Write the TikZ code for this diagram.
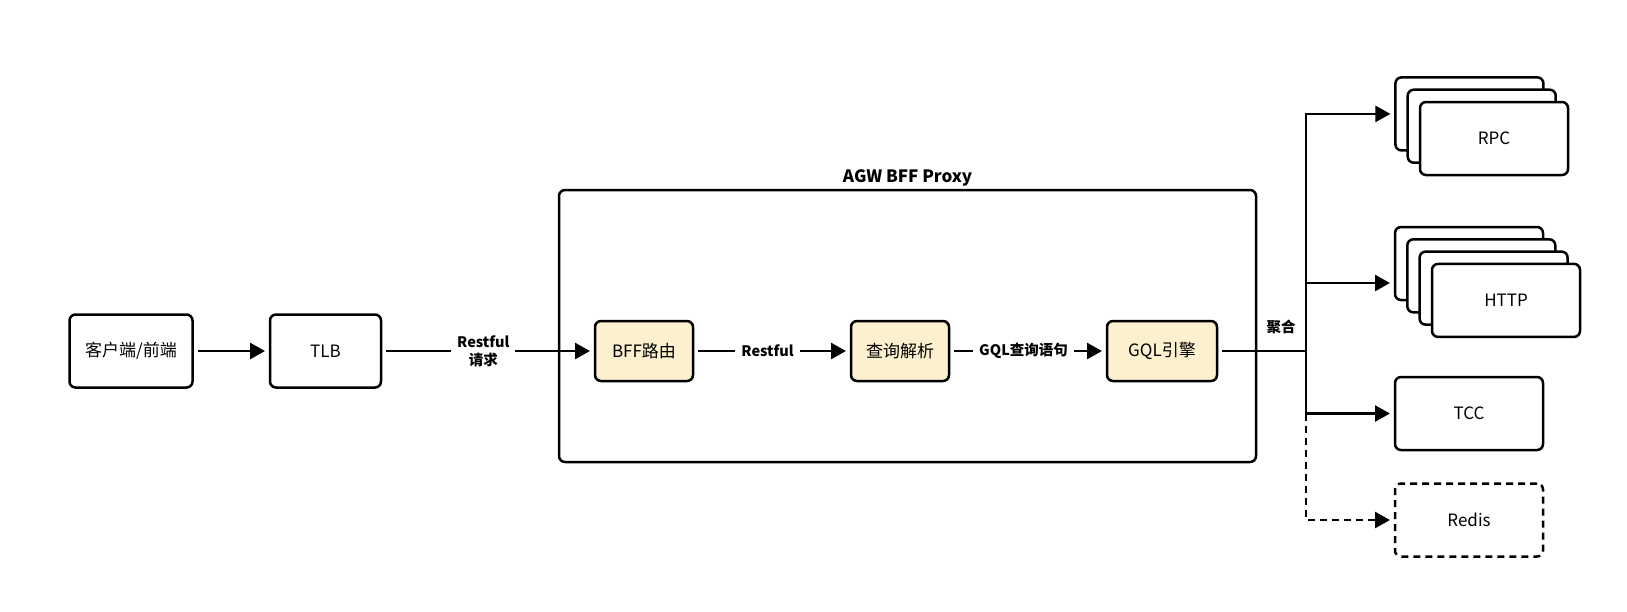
\documentclass[tikz,border=0pt]{standalone}
\usepackage{fontspec}
\setmainfont{Noto Sans CJK SC}
\usetikzlibrary{arrows.meta}

\definecolor{paleyellow}{HTML}{FDF0CF}

\begin{document}
\begin{tikzpicture}[x=1pt,y=-1pt,
  box/.style={shape=rectangle,draw=black,line width=2.5pt,rounded corners=6pt,
    fill=white,outer sep=5pt,font=\fontsize{17}{20}\selectfont},
  wide/.style={box,minimum width=148pt,minimum height=73pt},
  yellowbox/.style={box,fill=paleyellow,minimum height=60pt},
  lbl/.style={fill=white,inner sep=6pt,align=center,font=\bfseries\fontsize{14.5}{18}\selectfont},
  flow/.style={line width=2.5pt,-{Triangle[length=15pt,width=16pt]}},
  link/.style={line width=2.5pt},
  dashline/.style={dash pattern=on 7pt off 5pt}]
\useasboundingbox (0,0) rectangle (1627,611);
\node[shape=rectangle,draw=black,line width=2.5pt,rounded corners=6pt,minimum width=697pt,minimum height=272pt,
  label={[inner sep=2pt,font=\bfseries\fontsize{17}{20}\selectfont]above:AGW BFF Proxy}] (proxy) at (907.5,326) {};
\node[box,minimum width=123pt,minimum height=73pt] (client) at (131,351) {客户端/前端};
\node[box,minimum width=111pt,minimum height=73pt] (tlb) at (325.5,351) {TLB};
\node[yellowbox,minimum width=98pt] (bff) at (644,351) {BFF路由};
\node[yellowbox,minimum width=98pt] (parse) at (900,351) {查询解析};
\node[yellowbox,minimum width=110pt] (engine) at (1162,351) {GQL引擎};
% downstream services
\node[wide] (rpc3) at (1469.4,113.9) {};
\node[wide] (rpc2) at (1481.7,126.2) {};
\node[wide] (rpc) at (1494,138.5) {RPC};
\node[wide] (http4) at (1469,263.5) {};
\node[wide] (http3) at (1481.3,275.8) {};
\node[wide] (http2) at (1493.6,288.1) {};
\node[wide] (http) at (1506,300.4) {HTTP};
\node[wide] (tcc) at (1469,413.5) {TCC};
\node[wide,dashline] (redis) at (1469,520) {Redis};
\coordinate (hub) at (1306,351);
\coordinate (httpin) at (1390,283);
\node[font=\bfseries\fontsize{14.5}{18}\selectfont] (agg) at (1281,327) {聚合};
\draw[flow] (client) -- (tlb);
\draw[flow] (tlb) -- node[lbl,pos=0.477] {Restful\\请求} (bff);
\draw[flow] (bff) -- node[lbl,pos=0.47] {Restful} (parse);
\draw[flow] (parse) -- node[lbl,pos=0.47] {GQL查询语句} (engine);
\draw[link] (engine) -- (hub);
\draw[flow] (hub) |- (rpc3);
\draw[flow] (hub) |- (httpin);
\draw[flow] (hub) |- (tcc);
\draw[flow,dashline] (hub |- tcc.west) |- (redis);
\end{tikzpicture}
\end{document}
